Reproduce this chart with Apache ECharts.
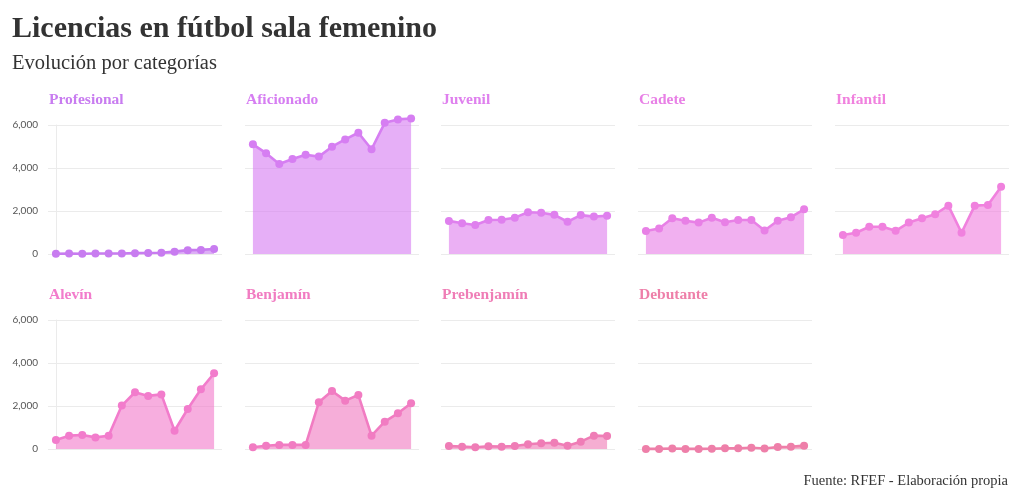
<!DOCTYPE html>
<html>
<head>
<meta charset="utf-8">
<script src="https://cdn.jsdelivr.net/npm/echarts@6/dist/echarts.min.js"></script>
<style>html,body{margin:0;padding:0;background:#fff}#c{width:1020px;height:498px}</style>
</head>
<body>
<div id="c"></div>
<script>
const categories = ["Profesional","Aficionado","Juvenil","Cadete","Infantil","Alevín","Benjamín","Prebenjamín","Debutante"];
const profesional = [15, 20, 15, 20, 25, 25, 40, 45, 60, 110, 180, 190, 230];
const aficionado  = [5100, 4690, 4190, 4420, 4620, 4530, 4990, 5330, 5640, 4870, 6100, 6260, 6300];
const juvenil     = [1540, 1430, 1350, 1580, 1590, 1690, 1940, 1920, 1820, 1500, 1810, 1740, 1780];
const cadete      = [1070, 1190, 1660, 1550, 1460, 1690, 1480, 1580, 1580, 1090, 1550, 1710, 2080];
const infantil    = [880, 990, 1270, 1270, 1080, 1460, 1660, 1850, 2250, 990, 2250, 2280, 3130];
const alevin      = [420, 620, 650, 540, 620, 2020, 2640, 2470, 2540, 850, 1860, 2780, 3520];
const benjamin    = [80, 150, 190, 190, 190, 2170, 2700, 2250, 2510, 620, 1270, 1660, 2130];
const prebenjamin = [140, 110, 80, 130, 110, 140, 220, 270, 290, 150, 340, 620, 600];
const debutante   = [5, 5, 20, 5, 5, 15, 30, 30, 60, 25, 90, 105, 155];
const seriesValues = [profesional, aficionado, juvenil, cadete, infantil, alevin, benjamin, prebenjamin, debutante];
const colors = ["#c87cf0","#d67ef2","#df80ee","#e880e6","#f081de","#f27ccc","#f17cc2","#ef7db6","#ee7fa9"];

const colLeft = [48, 245, 441, 638, 835];
const zeroY = [254, 449];
const pxPer1000 = 21.5;
const gw = 174, gh = 6000 * pxPer1000 / 1000;
const serif = "'Liberation Serif', 'DejaVu Serif', serif";

const grids = [], xAxes = [], yAxes = [], series = [];
const titles = [
  {text: "Licencias en fútbol sala femenino", left: 12, top: 14, padding: 0,
   textStyle: {fontFamily: serif, fontSize: 30, fontWeight: "bold", color: "#333"}},
  {text: "Evolución por categorías", left: 12, top: 53, padding: 0,
   textStyle: {fontFamily: serif, fontSize: 20.5, fontWeight: "normal", color: "#333"}},
  {text: "Fuente: RFEF - Elaboración propia", right: 12, top: 474, padding: 0,
   textStyle: {fontFamily: serif, fontSize: 14.5, fontWeight: "normal", color: "#333"}}
];

categories.forEach((name, i) => {
  const col = i % 5, row = Math.floor(i / 5);
  const top = zeroY[row] - gh;
  grids.push({left: colLeft[col], top: top, width: gw, height: gh});
  xAxes.push({type: "value", gridIndex: i, min: -0.6, max: 12.6, show: false});
  yAxes.push({
    type: "value", gridIndex: i, min: 0, max: 6000, interval: 2000,
    axisLine: {show: col === 0, lineStyle: {color: "#ebebeb"}},
    axisTick: {show: false},
    splitLine: {lineStyle: {color: "#ebebeb", width: 1}},
    axisLabel: {
      show: col === 0, margin: 10, fontFamily: "Lato, 'Noto Sans', sans-serif", fontSize: 10, color: "#555",
      formatter: v => v.toLocaleString("en-US")
    }
  });
  titles.push({text: name, left: colLeft[col] + 1, top: zeroY[row] - 162, padding: 0,
    textStyle: {fontFamily: serif, fontSize: 15.5, fontWeight: "bold", color: colors[i]}});
  series.push({
    type: "line", name: name, xAxisIndex: i, yAxisIndex: i, clip: false,
    data: seriesValues[i].map((v, k) => [k, v]),
    symbol: "circle", symbolSize: 8, showSymbol: true,
    lineStyle: {color: colors[i], width: 2.6},
    itemStyle: {color: colors[i]},
    areaStyle: {color: colors[i], opacity: 0.62},
    animation: false, silent: true
  });
});

const chart = echarts.init(document.getElementById("c"), null, {renderer: "canvas"});
chart.setOption({backgroundColor: "#fff", animation: false, title: titles, grid: grids, xAxis: xAxes, yAxis: yAxes, series: series});
</script>
</body>
</html>
